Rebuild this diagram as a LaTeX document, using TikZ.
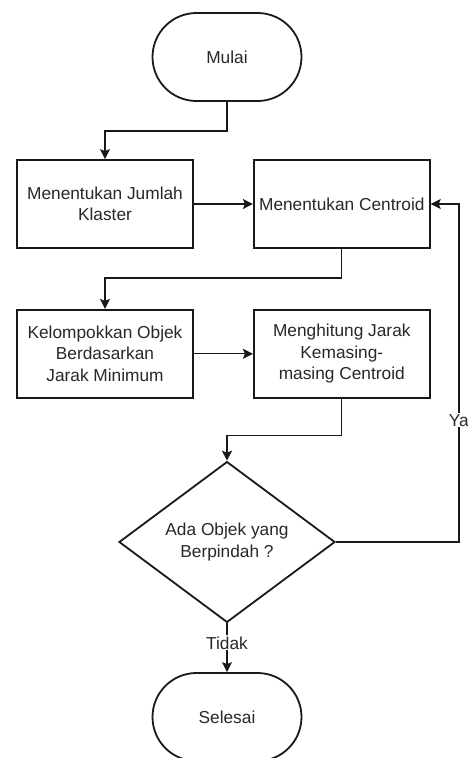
\documentclass[tikz,border=0pt]{standalone}
\usepackage{fontspec}
\setmainfont{Liberation Sans}
\usepackage{tikz}
\usetikzlibrary{positioning, arrows.meta, shapes.geometric, calc}
\definecolor{garis}{RGB}{25,25,25}
\definecolor{teks}{RGB}{40,40,40}
\tikzset{
  prosesbox/.style={
    rectangle, draw=garis, line width=1.8pt,
    fill=white, text=teks,
    minimum height=88pt, minimum width=176pt,
    align=center, inner sep=2pt,
    font=\fontsize{17.3}{21.6}\selectfont
  },
  terminal/.style={prosesbox, rounded corners=44pt, minimum width=149pt},
  keputusan/.style={prosesbox, diamond, inner sep=0pt,
    minimum width=216pt, minimum height=149pt},
  panah/.style={
    -{Stealth[length=10pt, width=10pt, inset=2pt]}, draw=garis, line width=1.3pt
  },
  labelpanah/.style={
    fill=white, text=teks, inner sep=1pt,
    font=\fontsize{17.3}{21.6}\selectfont
  }
}
\begin{document}
\begin{tikzpicture}[x=1pt, y=-1pt]
  \useasboundingbox (0,0) rectangle (468,758);
  \node[terminal] (mulai) at (227,57) {Mulai};
  \node[prosesbox] (jumlah) at (105,204) {Menentukan Jumlah\\Klaster};
  \node[prosesbox, right=59pt of jumlah] (centroid) {Menentukan Centroid};
  \node[prosesbox, below=60pt of jumlah] (kelompok) {Kelompokkan Objek\\Berdasarkan\\Jarak Minimum};
  \node[prosesbox, right=59pt of kelompok] (jarak) {Menghitung Jarak\\Kemasing-\\masing Centroid};
  \node[keputusan] (cek) at (227,542) {Ada Objek yang\\Berpindah ?};
  \node[terminal] (selesai) at (227,717) {Selesai};
  \coordinate (balik) at ($(cek.east)+(123,0)$);

  \draw[panah] (mulai.south) -- ++(0,29) -| (jumlah.north);
  \draw[panah] (jumlah.east) -- (centroid.west);
  \draw[panah] (centroid.south) -- ++(0,29) -| (kelompok.north);
  \draw[panah] (kelompok.east) -- (jarak.west);
  \draw[panah] (jarak.south) -- ++(0,37) -| (cek.north);
  \draw[panah] (cek.east) -- (balik) -- node[labelpanah, pos=0.36] {Ya} (balik |- centroid.east) -- (centroid.east);
  \draw[panah] (cek.south) -- node[labelpanah, pos=0.4] {Tidak} (selesai.north);
\end{tikzpicture}
\end{document}
